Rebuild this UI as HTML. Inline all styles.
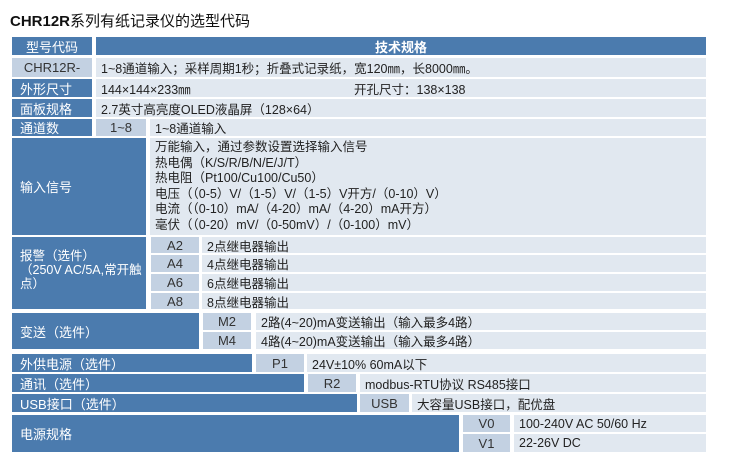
<!DOCTYPE html>
<html><head><meta charset="utf-8"><style>
body{margin:0;width:733px;height:462px;background:#fff;position:relative;overflow:hidden;font-family:"Liberation Sans","Noto Sans CJK SC",sans-serif;}
.c{position:absolute;box-sizing:border-box;display:flex;align-items:center;font-size:12.5px;white-space:nowrap;overflow:hidden}
.d{background:#4b7bae;color:#fff;padding-left:8px;font-size:13px}
.k{background:#c3d1e2;color:#333;justify-content:center;font-size:13px}
.t{background:#e1e8f0;color:#222;padding-left:5px}
.title{position:absolute;left:10px;top:10px;font-size:15px;color:#111}
</style></head><body>
<div class="title"><b>CHR12R</b>系列有纸记录仪的选型代码</div>

<div class="c d" style="left:12px;top:37px;width:80px;height:18px;justify-content:center;padding:0">型号代码</div>
<div class="c d" style="left:96px;top:37px;width:610px;height:18px;justify-content:center;padding:0;font-weight:bold">技术规格</div>

<div class="c k" style="left:12px;top:58px;width:80px;height:19px">CHR12R-</div>
<div class="c t" style="left:96px;top:58px;width:610px;height:19px">1~8通道输入；采样周期1秒；折叠式记录纸，宽120㎜，长8000㎜。</div>

<div class="c d" style="left:12px;top:79px;width:80px;height:18px">外形尺寸</div>
<div class="c t" style="left:96px;top:79px;width:610px;height:18px">144×144×233㎜<span style="position:absolute;left:258px">开孔尺寸：138×138</span></div>

<div class="c d" style="left:12px;top:99px;width:80px;height:18px">面板规格</div>
<div class="c t" style="left:96px;top:99px;width:610px;height:18px">2.7英寸高亮度OLED液晶屏（128×64）</div>

<div class="c d" style="left:12px;top:119px;width:80px;height:17px">通道数</div>
<div class="c k" style="left:96px;top:119px;width:50px;height:17px">1~8</div>
<div class="c t" style="left:150px;top:119px;width:556px;height:17px">1~8通道输入</div>

<div class="c d" style="left:12px;top:138px;width:134px;height:97px">输入信号</div>
<div class="c t" style="left:150px;top:138px;width:556px;height:97px;display:block;padding-top:2px;line-height:15.6px;white-space:pre">万能输入，通过参数设置选择输入信号
热电偶（K/S/R/B/N/E/J/T）
热电阻（Pt100/Cu100/Cu50）
电压（（0-5）V/（1-5）V/（1-5）V开方/（0-10）V）
电流（（0-10）mA/（4-20）mA/（4-20）mA开方）
毫伏（（0-20）mV/（0-50mV）/（0-100）mV）</div>

<div class="c d" style="left:12px;top:237px;width:134px;height:72px;display:block;padding-top:12px;line-height:14px;white-space:normal;font-size:12.5px">报警（选件）<br>（250V AC/5A,常开触点）</div>
<div class="c k" style="left:151px;top:237px;width:48px;height:16px">A2</div>
<div class="c t" style="left:202px;top:237px;width:504px;height:16px">2点继电器输出</div>
<div class="c k" style="left:151px;top:255px;width:48px;height:17px">A4</div>
<div class="c t" style="left:202px;top:255px;width:504px;height:17px">4点继电器输出</div>
<div class="c k" style="left:151px;top:274px;width:48px;height:17px">A6</div>
<div class="c t" style="left:202px;top:274px;width:504px;height:17px">6点继电器输出</div>
<div class="c k" style="left:151px;top:293px;width:48px;height:16px">A8</div>
<div class="c t" style="left:202px;top:293px;width:504px;height:16px">8点继电器输出</div>

<div class="c d" style="left:12px;top:313px;width:187px;height:36px">变送（选件）</div>
<div class="c k" style="left:203px;top:313px;width:48px;height:17px">M2</div>
<div class="c t" style="left:256px;top:313px;width:450px;height:17px">2路(4~20)mA变送输出（输入最多4路）</div>
<div class="c k" style="left:203px;top:332px;width:48px;height:17px">M4</div>
<div class="c t" style="left:256px;top:332px;width:450px;height:17px">4路(4~20)mA变送输出（输入最多4路）</div>

<div class="c d" style="left:12px;top:354px;width:240px;height:18px">外供电源（选件）</div>
<div class="c k" style="left:256px;top:354px;width:48px;height:18px">P1</div>
<div class="c t" style="left:307px;top:354px;width:399px;height:18px">24V±10% 60mA以下</div>

<div class="c d" style="left:12px;top:374px;width:292px;height:18px">通讯（选件）</div>
<div class="c k" style="left:308px;top:374px;width:48px;height:18px">R2</div>
<div class="c t" style="left:360px;top:374px;width:346px;height:18px">modbus-RTU协议 RS485接口</div>

<div class="c d" style="left:12px;top:394px;width:345px;height:18px">USB接口（选件）</div>
<div class="c k" style="left:360px;top:394px;width:49px;height:18px">USB</div>
<div class="c t" style="left:412px;top:394px;width:294px;height:18px">大容量USB接口，配优盘</div>

<div class="c d" style="left:12px;top:415px;width:447px;height:37px">电源规格</div>
<div class="c k" style="left:463px;top:415px;width:47px;height:17px">V0</div>
<div class="c t" style="left:514px;top:415px;width:192px;height:17px">100-240V AC 50/60 Hz</div>
<div class="c k" style="left:463px;top:434px;width:47px;height:18px">V1</div>
<div class="c t" style="left:514px;top:434px;width:192px;height:18px">22-26V DC</div>
</body></html>
